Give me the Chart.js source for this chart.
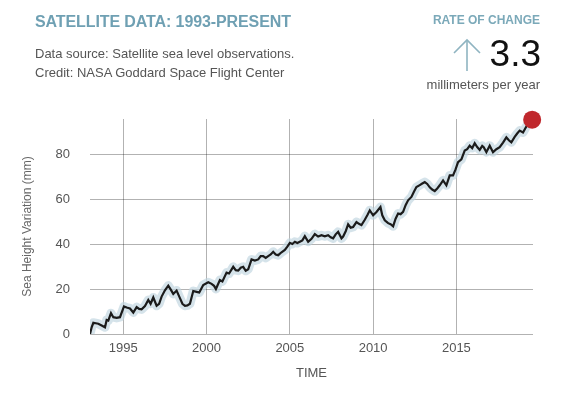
<!DOCTYPE html>
<html>
<head>
<meta charset="utf-8">
<script src="https://cdn.jsdelivr.net/npm/chart.js@4"></script>
<style>
  body { margin: 0; background: #fff; font-family: "Liberation Sans", Arial, sans-serif; }
  #wrap { position: relative; width: 563px; height: 393px; overflow: hidden; }
  #chart { position: absolute; left: 0; top: 0; }
  .txt { position: absolute; white-space: nowrap; }
  #title { left: 35px; top: 13px; font-size: 16px; font-weight: bold; color: #6fa0b3; letter-spacing: -0.1px; }
  #sub { left: 35px; top: 44px; font-size: 13px; color: #555; line-height: 19px; }
  #rateLbl { right: 23px; top: 13px; font-size: 12px; font-weight: bold; color: #7ba9b9; }
  #rate { right: 22px; top: 33px; font-size: 37px; color: #111; }
  #unit { right: 23px; top: 77px; font-size: 13px; color: #555; }
  #arrow { position: absolute; left: 452px; top: 38px; }
</style>
</head>
<body>
<div id="wrap">
  <canvas id="chart" width="563" height="393"></canvas>
  <div class="txt" id="title">SATELLITE DATA: 1993-PRESENT</div>
  <div class="txt" id="sub">Data source: Satellite sea level observations.<br>Credit: NASA Goddard Space Flight Center</div>
  <div class="txt" id="rateLbl">RATE OF CHANGE</div>
  <svg id="arrow" width="32" height="36">
    <polyline points="2,15 15,2 28,15" fill="none" stroke="#8fb4c1" stroke-width="1.6"/>
    <line x1="15" y1="2" x2="15" y2="33" stroke="#8fb4c1" stroke-width="1.6"/>
  </svg>
  <div class="txt" id="rate">3.3</div>
  <div class="txt" id="unit">millimeters per year</div>
</div>
<script>
// sea height variation (mm)
var years = [
  1993.0, 1993.1, 1993.2, 1993.35, 1993.5, 1993.7, 1993.9, 1994.0, 1994.1, 1994.26,
  1994.4, 1994.6, 1994.8, 1995.04, 1995.2, 1995.4, 1995.6, 1995.8, 1995.95, 1996.1,
  1996.3, 1996.5, 1996.64, 1996.8, 1997.0, 1997.15, 1997.3, 1997.5, 1997.7, 1997.85,
  1998.0, 1998.2, 1998.4, 1998.55, 1998.7, 1998.85, 1999.0, 1999.2, 1999.4, 1999.56,
  1999.8, 2000.1, 2000.3, 2000.45, 2000.56, 2000.8, 2000.95, 2001.2, 2001.35, 2001.6,
  2001.75, 2001.9, 2002.05, 2002.2, 2002.35, 2002.5, 2002.7, 2002.9, 2003.1, 2003.25,
  2003.4, 2003.55, 2003.7, 2003.85, 2004.0, 2004.15, 2004.3, 2004.5, 2004.7, 2004.85,
  2005.0, 2005.15, 2005.3, 2005.45, 2005.6, 2005.75, 2005.9, 2006.1, 2006.3, 2006.5,
  2006.7, 2006.9, 2007.1, 2007.3, 2007.45, 2007.6, 2007.75, 2007.9, 2008.1, 2008.2,
  2008.36, 2008.5, 2008.65, 2008.8, 2009.0, 2009.15, 2009.3, 2009.5, 2009.65, 2009.8,
  2010.0, 2010.2, 2010.44, 2010.55, 2010.7, 2010.9, 2011.05, 2011.2, 2011.35, 2011.5,
  2011.65, 2011.8, 2011.95, 2012.1, 2012.3, 2012.45, 2012.6, 2012.8, 2012.95, 2013.1,
  2013.25, 2013.4, 2013.55, 2013.7, 2013.85, 2014.0, 2014.2, 2014.4, 2014.6, 2014.8,
  2014.95, 2015.1, 2015.3, 2015.5, 2015.65, 2015.8, 2015.95, 2016.1, 2016.25, 2016.4,
  2016.55, 2016.64, 2016.8, 2017.0, 2017.2, 2017.4, 2017.6, 2017.8, 2018.0, 2018.15,
  2018.3, 2018.5, 2018.65, 2018.8, 2019.0, 2019.15, 2019.3, 2019.55
];
var heights = [
  0, 3, 5, 4.8, 4.6, 3.8, 3, 6.3, 6, 9.3,
  7.5, 7.2, 7.5, 12.3, 11.8, 11.4, 9.6, 12, 11.2, 11,
  12.5, 15.2, 13.5, 16.3, 12.6, 13.5, 16.7, 19.5, 21.6, 19.8,
  17.9, 19.4, 16, 13.5, 12.6, 12.8, 13.5, 19.2, 18.8, 18.5,
  21.9, 23.1, 22.4, 21.5, 20.1, 24.1, 23.5, 27.4, 27, 30,
  28.5, 28.3, 29.6, 30, 28.2, 28.9, 33.3, 32.8, 33.3, 34.8,
  34.8, 34, 34.8, 35.5, 36.7, 35.5, 35.2, 36.5, 37.5, 39,
  40.7, 40.2, 41.2, 40.6, 41.2, 41.8, 43.7, 41.2, 42.5, 44.6,
  43.5, 44.1, 43.6, 44.1, 43.2, 42.7, 44.5, 45.6, 42.7, 43.5,
  46, 49, 47.5, 47.8, 50, 49.2, 48.6, 51, 53, 55.2,
  53, 54.5, 56.7, 53, 50.8, 49.5, 49, 48.1, 51.5, 53.8,
  53.5, 54.5, 57.5, 59.7, 61.2, 63.5, 65.6, 66.5, 67.2, 67.8,
  67, 65.5, 64.5, 63.8, 65, 66.4, 68.6, 66.4, 70.8, 70.8,
  73.5, 76.7, 78, 81.9, 82.5, 84.1, 83, 85.2, 83.5, 82.2,
  84, 83.4, 81.2, 84.1, 81.2, 82.5, 83.4, 85.5, 87.8, 86.5,
  85.6, 88, 89.5, 90.8, 90, 92, 93.8, 95.7
];
var xTicks = [1995, 2000, 2005, 2010, 2015];
var yTicks = [0, 20, 40, 60, 80];

var points = years.map(function (y, i) { return { x: y, y: heights[i] }; });
var last = points[points.length - 1];

var font = "'Liberation Sans', Arial, sans-serif";

new Chart(document.getElementById('chart'), {
  type: 'line',
  data: {
    datasets: [{
      data: points,
      borderColor: '#1b1b1b',
      borderWidth: 2.2,
      pointRadius: 0,
      tension: 0,
      order: 2
    }, {
      data: points,
      borderColor: 'rgba(190, 212, 222, 0.65)',
      borderWidth: 9,
      borderJoinStyle: 'round',
      pointRadius: 0,
      tension: 0,
      order: 3
    }, {
      data: [last],
      showLine: false,
      pointRadius: 9,
      pointBackgroundColor: '#c0282d',
      pointBorderWidth: 0,
      clip: false,
      order: 1
    }]
  },
  options: {
    responsive: false,
    animation: false,
    layout: { padding: { top: 119, right: 30, left: 0, bottom: 0 } },
    plugins: { legend: { display: false }, tooltip: { enabled: false } },
    scales: {
      x: {
        type: 'linear',
        min: 1993,
        max: 2019.6,
        afterBuildTicks: function (scale) { scale.ticks = xTicks.map(function (v) { return { value: v }; }); },
        afterFit: function (scale) { scale.height = 59; },
        border: { display: false },
        grid: { color: 'rgba(0,0,0,0.3)', drawTicks: false },
        ticks: {
          font: { family: font, size: 13 }, color: '#555', padding: 7, maxRotation: 0,
          callback: function (v) { return String(v); }
        },
        title: { display: true, text: 'TIME', font: { family: font, size: 13 }, color: '#555', padding: { top: 0, bottom: 12 } }
      },
      y: {
        min: 0,
        max: 96,
        afterBuildTicks: function (scale) { scale.ticks = yTicks.map(function (v) { return { value: v }; }); },
        afterFit: function (scale) { scale.width = 90; },
        border: { display: false },
        grid: { color: 'rgba(0,0,0,0.3)', drawTicks: false },
        ticks: { font: { family: font, size: 13 }, color: '#555', padding: 20 },
        title: { display: true, text: 'Sea Height Variation (mm)', font: { family: font, size: 12 }, color: '#666', padding: { top: 20, bottom: 0 } }
      }
    }
  }
});
</script>
</body>
</html>
